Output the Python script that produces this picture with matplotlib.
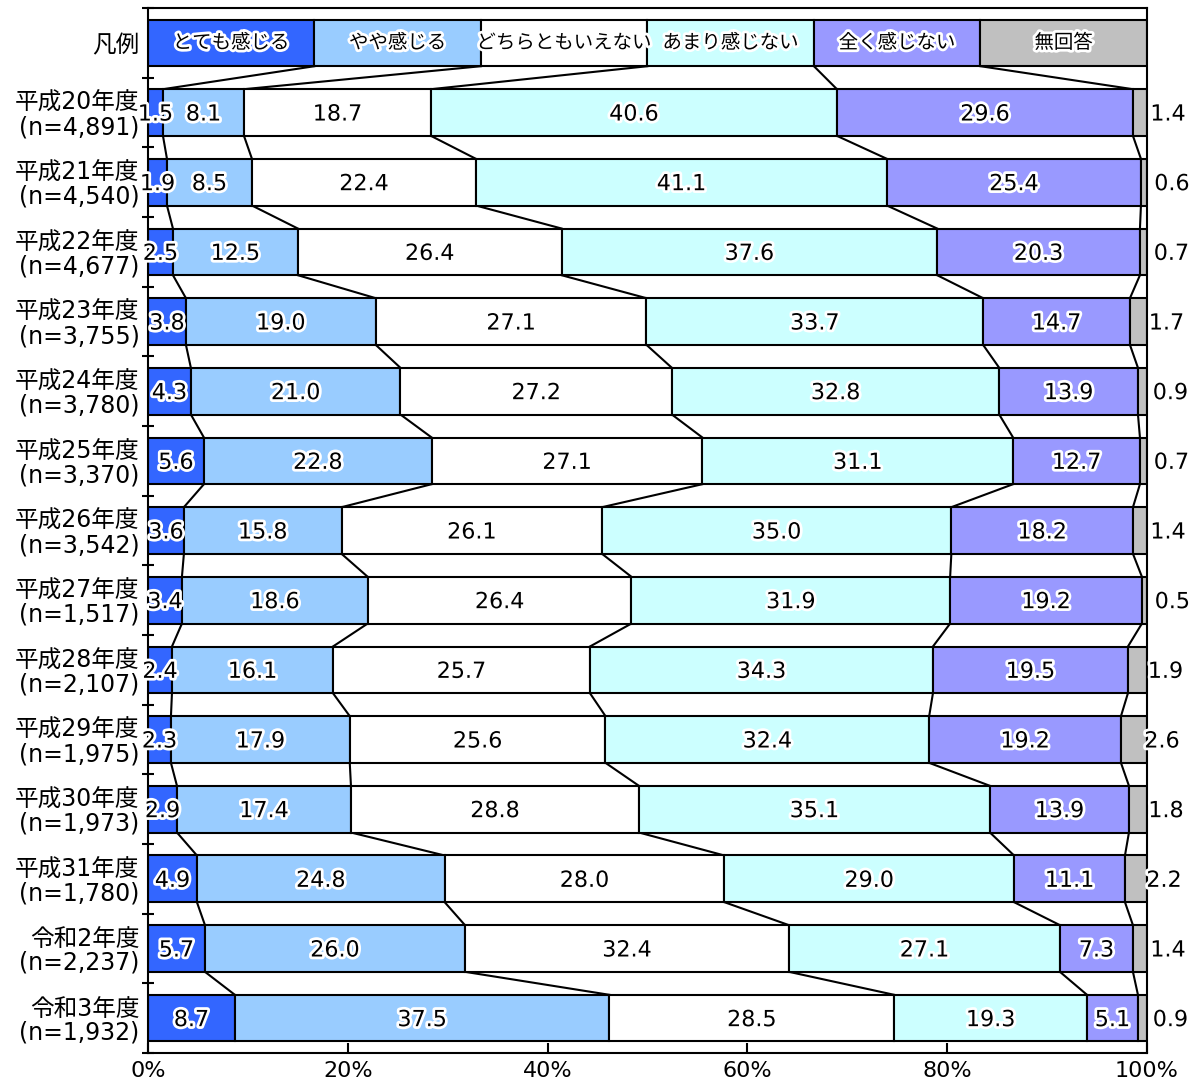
import matplotlib.pyplot as plt
import matplotlib.patheffects as pe
import numpy as np

plt.rcParams['font.family'] = ['DejaVu Sans', 'Noto Sans CJK JP']

years = ['平成20年度', '平成21年度', '平成22年度', '平成23年度', '平成24年度',
         '平成25年度', '平成26年度', '平成27年度', '平成28年度', '平成29年度',
         '平成30年度', '平成31年度', '令和2年度', '令和3年度']
n_counts = ['4,891', '4,540', '4,677', '3,755', '3,780', '3,370', '3,542',
            '1,517', '2,107', '1,975', '1,973', '1,780', '2,237', '1,932']

categories = ['とても感じる', 'やや感じる', 'どちらともいえない', 'あまり感じない', '全く感じない', '無回答']
colors = ['#3366FF', '#99CCFF', '#FFFFFF', '#CCFFFF', '#9999FF', '#C0C0C0']

totemo = [1.5, 1.9, 2.5, 3.8, 4.3, 5.6, 3.6, 3.4, 2.4, 2.3, 2.9, 4.9, 5.7, 8.7]
yaya = [8.1, 8.5, 12.5, 19.0, 21.0, 22.8, 15.8, 18.6, 16.1, 17.9, 17.4, 24.8, 26.0, 37.5]
dochira = [18.7, 22.4, 26.4, 27.1, 27.2, 27.1, 26.1, 26.4, 25.7, 25.6, 28.8, 28.0, 32.4, 28.5]
amari = [40.6, 41.1, 37.6, 33.7, 32.8, 31.1, 35.0, 31.9, 34.3, 32.4, 35.1, 29.0, 27.1, 19.3]
mattaku = [29.6, 25.4, 20.3, 14.7, 13.9, 12.7, 18.2, 19.2, 19.5, 19.2, 13.9, 11.1, 7.3, 5.1]
muko = [1.4, 0.6, 0.7, 1.7, 0.9, 0.7, 1.4, 0.5, 1.9, 2.6, 1.8, 2.2, 1.4, 0.9]

raw = np.array([totemo, yaya, dochira, amari, mattaku, muko]).T
data = raw / raw.sum(axis=1, keepdims=True) * 100
# legend row: six equal segments
legend_row = np.full(6, 100 / 6)
rows = np.vstack([legend_row, data])

fig = plt.figure(figsize=(12.03, 10.86), dpi=100)
ax = fig.add_axes([0.123, 0.0304, 0.8304, 0.9622])

bar_h = 0.67
halo = [pe.withStroke(linewidth=4, foreground='white')]
fs = 16

cums = np.cumsum(rows, axis=1)
lefts = cums - rows
for i in range(rows.shape[0]):
    ax.barh(i, rows[i], left=lefts[i], height=bar_h, color=colors,
            edgecolor='black', linewidth=1.5, zorder=2)

# legend labels
for k, cat in enumerate(categories):
    ax.text(lefts[0, k] + rows[0, k] / 2, 0, cat, ha='center', va='center',
            fontsize=14, family='Noto Sans CJK JP', path_effects=halo, zorder=4)

# value labels
for i in range(raw.shape[0]):
    for k in range(6):
        x = lefts[i + 1, k] + rows[i + 1, k] / 2
        if k == 5:
            ax.annotate(f'{raw[i, k]:.1f}', (x, i + 1), xytext=(28, 0),
                        textcoords='offset pixels', ha='center',
                        va='center_baseline', fontsize=fs, path_effects=halo,
                        zorder=4, annotation_clip=False)
        else:
            ax.text(x, i + 1, f'{raw[i, k]:.1f}', ha='center',
                    va='center_baseline', fontsize=fs, path_effects=halo,
                    zorder=4)

# connecting lines between bars
for i in range(rows.shape[0] - 1):
    for k in range(5):
        ax.plot([cums[i, k], cums[i + 1, k]], [i + bar_h / 2, i + 1 - bar_h / 2],
                color='black', linewidth=1.5, zorder=1)

ax.set_xlim(0, 100)
ax.set_ylim(rows.shape[0] - 0.5, -0.5)

ax.set_xticks(np.arange(0, 101, 20))
ax.set_xticklabels([f'{v}%' for v in range(0, 101, 20)], fontsize=fs)
ax.tick_params(axis='x', direction='in', length=7, width=1.5, pad=6)

ax.set_yticks(np.arange(-0.5, rows.shape[0], 1))
ax.set_yticklabels([])
ax.tick_params(axis='y', which='major', direction='inout', length=9, width=1.5)
ylabels = ['凡例'] + [f'{y}\n(n={n})' for y, n in zip(years, n_counts)]
ax.set_yticks(np.arange(rows.shape[0]), minor=True)
ax.set_yticklabels(ylabels, minor=True, fontsize=17, linespacing=1.0)
ax.tick_params(axis='y', which='minor', length=0, pad=6)
ax.tick_params(axis='x', which='minor', length=0)

for s in ax.spines.values():
    s.set_linewidth(1.5)

fig.savefig('out.png', dpi=100)
